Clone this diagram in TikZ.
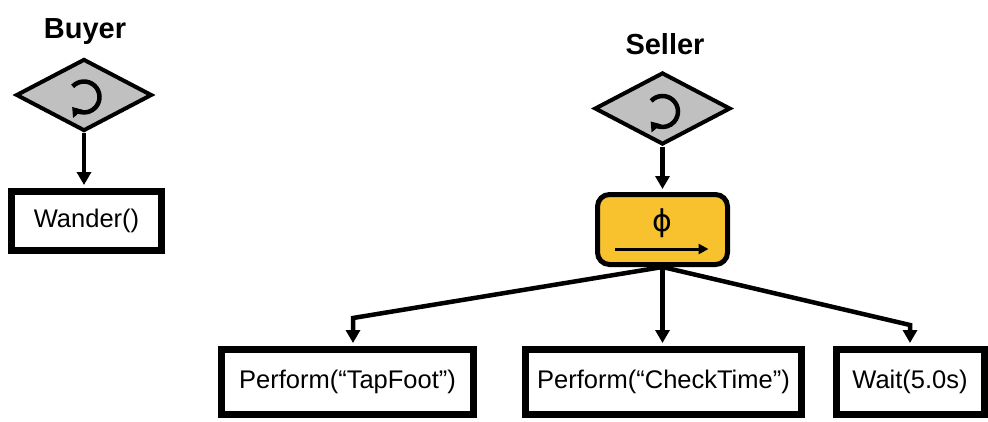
\documentclass[tikz,border=0pt]{standalone}
\usepackage{fontspec}
\setmainfont{Liberation Sans}
\newfontfamily\phisym{DejaVu Sans}
\usetikzlibrary{shapes.geometric,arrows.meta,calc}
\definecolor{loopgrey}{RGB}{192,192,192}
\definecolor{seqyellow}{RGB}{248,194,46}
\begin{document}
\begin{tikzpicture}[x=1pt,y=-1pt,
  actbox/.style={draw, line width=7pt, minimum width=#1, minimum height=65pt,
    inner sep=0pt, fill=white, font=\fontsize{25.5}{30}\selectfont},
  loopdia/.style={diamond, draw, line width=4pt, fill=loopgrey, inner sep=0pt,
    aspect=1.9, minimum width=136pt, minimum height=72pt},
  seqbox/.style={draw, line width=5pt, fill=seqyellow, rounded corners=12pt,
    minimum width=130pt, minimum height=70pt, inner sep=0pt},
  lbl/.style={font=\bfseries\fontsize{29}{33}\selectfont},
  conn/.style={line width=4.5pt, -{Triangle[length=13pt,width=14pt]}, shorten >=3pt},
  loopicon/.style={line width=4.5pt, -{Triangle[length=9pt,width=12pt]}}
]
\useasboundingbox (0,0) rectangle (988,421);
% Buyer
\node[lbl] (buyerlbl) at (85,32) {Buyer};
\node[loopdia] (bdia) at (84,95) {};
\draw[loopicon] ($(bdia.center)+(0,2)+(-137:15.5)$) arc[start angle=-137, end angle=140, radius=15.5];
\node[actbox=150pt, minimum height=59pt] (wander) at (86.5,221) {Wander()};
\draw[conn] (bdia.south) -- (bdia.south |- wander.north);
% Seller
\node[lbl] (sellerlbl) at (665,44) {Seller};
\node[loopdia] (sdia) at (662.5,108.5) {};
\draw[loopicon] ($(sdia.center)+(0,3)+(-137:15.5)$) arc[start angle=-137, end angle=140, radius=15.5];
\node[seqbox] (seq) at (662.5,229.5) {};
\node[font=\phisym\fontsize{30}{34}\selectfont, inner sep=0pt] (phi) at (662.5,223) {ϕ};
\coordinate (arrs) at ($(seq.center)+(-47.5,19.5)$);
\coordinate (arre) at ($(seq.center)+(46,19.5)$);
\draw[line width=3pt, -{Triangle[length=10pt,width=10pt]}] (arrs) -- (arre);
\draw[conn] (sdia.south) -- (seq.north);
\node[actbox=252pt] (tap) at (347.5,382) {Perform(“TapFoot”)};
\node[actbox=276pt] (check) at (663.5,382) {Perform(“CheckTime”)};
\node[actbox=148pt] (wait) at (910,382) {Wait(5.0s)};
\coordinate (lc) at (353,318);
\coordinate (rc) at (910,325);
\draw[conn] (seq.south) -- (lc) -- (lc |- tap.north);
\draw[conn] (seq.south) -- (seq.south |- check.north);
\draw[conn] (seq.south) -- (rc) -- (rc |- wait.north);
\end{tikzpicture}
\end{document}
